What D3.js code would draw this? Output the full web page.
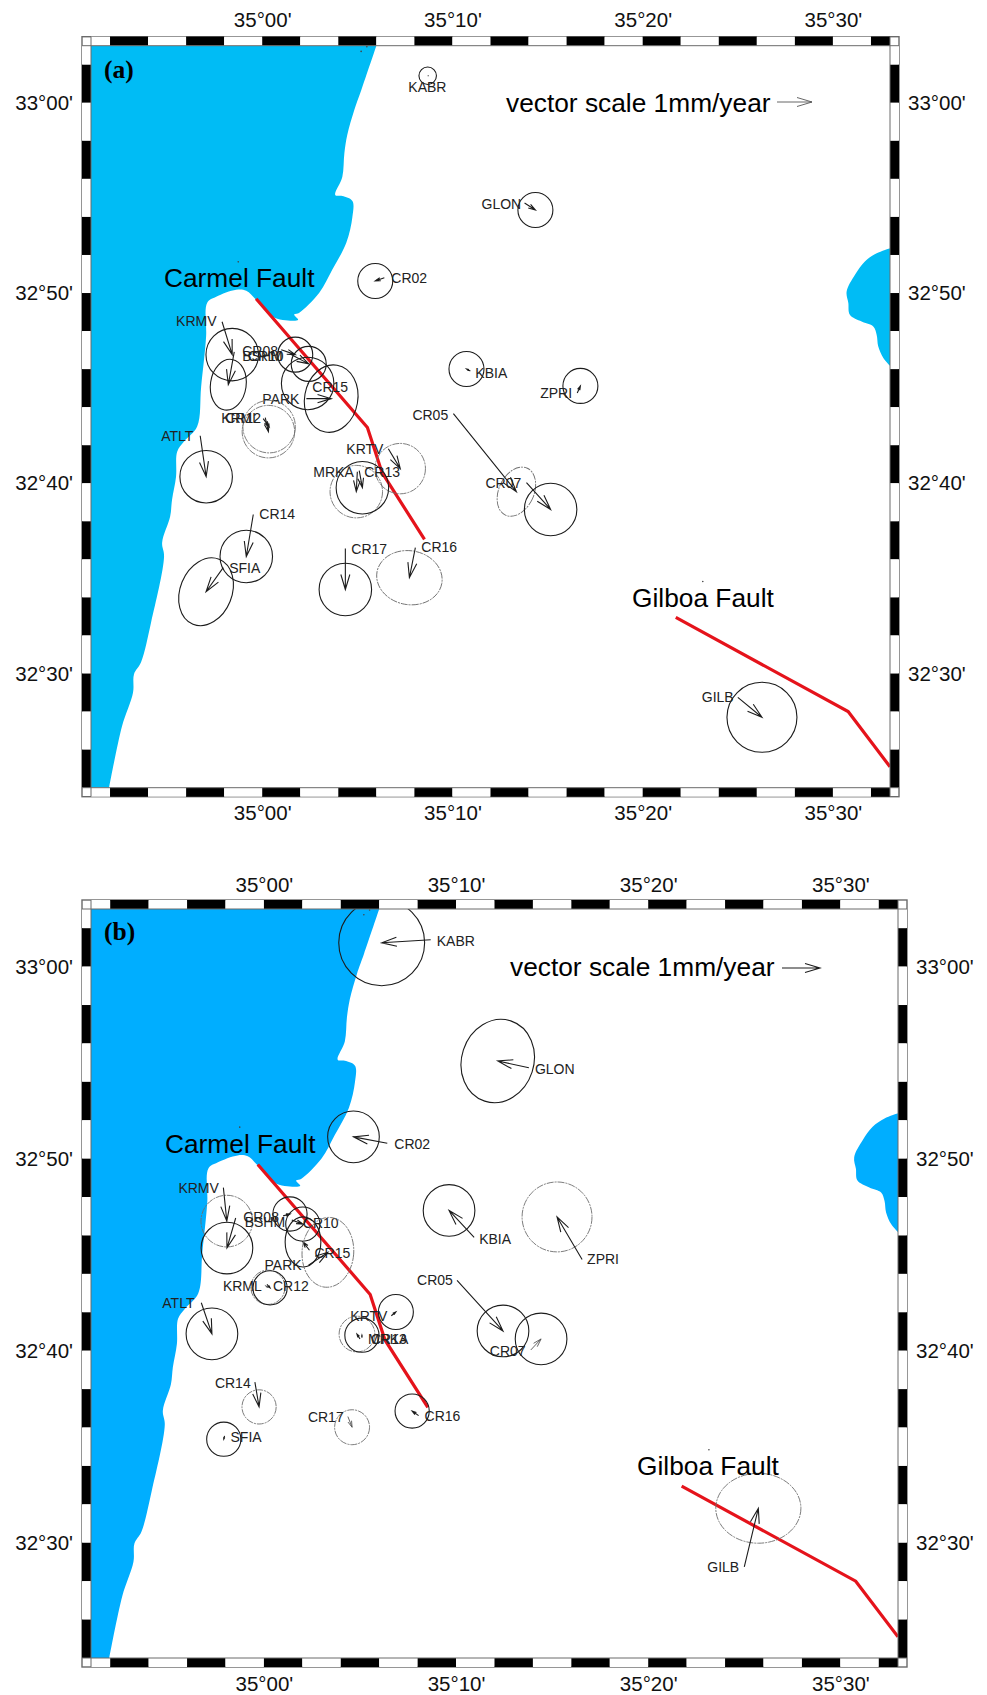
<!DOCTYPE html>
<html>
<head>
<meta charset="utf-8">
<script src="https://cdn.jsdelivr.net/npm/d3@7"></script>
<style>
    html, body {margin: 0; padding: 0; background: #fff;}
    svg {display: block; font-family: "Liberation Sans", Arial, sans-serif;}
    .ell {fill: none; stroke: #1c1c1c; stroke-width: 1.1;}
    .ell.faint {stroke: #6e6e6e; stroke-width: 0.9; stroke-dasharray: 7 1 2 1;}
    .vec {fill: none; stroke: #1c1c1c; stroke-width: 1.1;}
    .vec.thin {stroke: #555; stroke-width: 0.9;}
    .name {font-size: 14px; fill: #222;}
    .big {font-size: 26.3px; fill: #000;}
    .tick text {font-size: 20.5px; fill: #111; font-family: "Liberation Sans", Arial, sans-serif;}
</style>
</head>
<body>
<script>
// all map positions are arcminutes from 35 00' E and 33 00' N
var stations = ["KABR", "GLON", "CR02", "KRMV", "BSHM", "CR08", "CR10", "CR15", "PARK", "KRML", "CR12", "ATLT",
    "KRTV", "MRKA", "CR13", "CR14", "SFIA", "CR17", "CR16", "CR05", "CR07", "KBIA", "ZPRI", "GILB"];
var stationE = [8.68, 13.79, 6.42, -2.11, -1.47, 1.0, 1.45, 2.37, 2.32, 0.05, 0.16, -3.26,
    6.63, 5.0, 5.1, -0.47, -2.05, 4.37, 8.05, 10.05, 13.89, 10.94, 16.56, 25.0];
var stationN = [1.40, -5.27, -9.2, -11.51, -13.09, -12.98, -13.19, -14.77, -15.55, -16.6, -16.55, -17.5,
    -18.18, -19.39, -19.33, -21.64, -24.43, -23.43, -23.38, -16.34, -19.96, -14.1, -15.25, -31.25];

// velocities in mm/year, panel a
var eastA = [0.01, 0.31, -0.26, 0.29, -0.17, 0.40, 0.54, 0.01, 0.71, 0.17, 0.09, 0.17,
    0.34, -0.03, 0.09, -0.20, -0.49, 0.0, -0.17, 1.80, 0.69, -0.11, 0.09, 0.69];
var northA = [0.01, -0.20, -0.09, -0.94, -0.94, -0.14, -0.29, 0.01, 0.0, -0.23, -0.40, -1.17,
    -0.57, -0.57, -0.49, -1.20, -0.69, -1.17, -0.86, -2.23, -0.77, 0.06, 0.20, -0.57];
var errEA = [0.25, 0.5, 0.5, 0.75, 0.51, 0.5, 0.5, 0.75, 0.76, 0.75, 0.75, 0.75,
    0.72, 0.75, 0.75, 0.75, 0.74, 0.75, 0.94, 0.5, 0.75, 0.5, 0.5, 1.0];
var errNA = [0.25, 0.5, 0.5, 0.75, 0.73, 0.5, 0.5, 0.75, 0.97, 0.75, 0.75, 0.75,
    0.72, 0.75, 0.75, 0.75, 1.0, 0.75, 0.77, 0.74, 0.75, 0.5, 0.5, 1.0];
var tiltA = [0, 0, 0, 0, 8, 0, 0, 0, 10, 0, 0, 0, 0, 0, 0, 0, 22, 0, 10, 25, 0, 0, 0, 0];

// velocities in mm/year, panel b
var eastB = [-1.29, -0.82, -0.89, 0.09, -0.23, 0.18, 0.29, -0.17, 0.51, 0.08, 0.08, 0.28,
    0.12, -0.08, 0.0, 0.11, -0.02, 0.11, -0.17, 1.21, 0.27, -0.66, -0.66, 0.37];
var northB = [-0.08, 0.18, 0.17, -0.88, -0.79, 0.05, -0.11, 0.22, 0.34, -0.05, -0.09, -0.82,
    0.10, 0.13, 0.07, -0.65, -0.09, -0.28, 0.12, -1.33, 0.29, 0.71, 1.12, 1.54];
var errEB = [1.13, 0.95, 0.68, 0.68, 0.68, 0.45, 0.45, 0.47, 0.68, 0.45, 0.45, 0.68,
    0.46, 0.47, 0.45, 0.45, 0.45, 0.46, 0.45, 0.68, 0.68, 0.68, 0.92, 1.12];
var errNB = [1.13, 1.11, 0.68, 0.68, 0.68, 0.45, 0.45, 0.66, 0.92, 0.45, 0.45, 0.68,
    0.46, 0.47, 0.45, 0.45, 0.45, 0.46, 0.45, 0.68, 0.68, 0.68, 0.92, 0.92];
var tiltB = [0, 18, 0, 0, 0, 0, 0, 0, 4, 0, 0, 0, 0, 0, 0, 0, 0, 0, 0, 0, 0, 0, 0, 0];

var coastE = [6.0, 5.21, 4.84, 4.47, 4.32, 4.21, 3.84, 4.21, 4.74, 4.74, 4.42, 3.68, 3.0, 1.95, 1.68, 1.89, 1.58,
    0.53, -0.32, -0.84, -1.37, -2.42, -2.89, -2.95, -3.21, -3.42, -4.11, -4.47, -4.53, -4.74, -4.84,
    -5.26, -5.16, -5.84, -6.37, -6.74, -6.79, -7.37, -8.05];
var coastN = [3, 0.67, -0.38, -1.70, -2.64, -3.90, -4.85, -4.90, -5.16, -6.0, -7.36, -8.78, -9.99, -11.04, -11.14, -11.41, -11.46,
    -11.25, -10.36, -9.88, -9.83, -10.2, -10.51, -12.3, -14.92, -17.02, -17.81, -18.34, -19.65, -20.86, -21.75,
    -23.11, -23.85, -27.31, -29.41, -30.04, -30.99, -32.77, -36];
var lakeE = [33, 32.3, 31.68, 31.16, 30.72, 30.81, 30.89, 31.51, 32.12, 32.3, 32.38, 32.65, 33];
var lakeN = [-7.64, -7.91, -8.34, -9.04, -9.92, -10.53, -11.14, -11.5, -11.76, -12.2, -12.8, -13.42, -13.83];

var carmelE = [-0.32, 5.53, 6.3, 8.53];
var carmelN = [-10.3, -17.07, -19.44, -22.95];
var gilboaE = [21.74, 30.8, 33];
var gilboaN = [-27.05, -32, -34.9];
var speckE = [-1.26, 23.16, 5.2, 5.5];
var speckN = [-8.36, -25.16, 2.7, 2.95];

var lonTicks = [0, 10, 20, 30];
var latTicks = [0, -10, -20, -30];
var lonTickLabels = ["35\u00b000'", "35\u00b010'", "35\u00b020'", "35\u00b030'"];
var latTickLabels = ["33\u00b000'", "32\u00b050'", "32\u00b040'", "32\u00b030'"];

// label offsets from the station, pixels [dx, dy]
var labelA = {KABR: [-19, 11], GLON: [-43, 1], CR02: [7, 0], KRMV: [-46, -1], BSHM: [8, 4], CR08: [-39, 1], CR10: [-42, 2],
    CR15: [5, 3], PARK: [-44, 0], KRML: [-42, -1], CR12: [-40, 0], ATLT: [-39, 0], KRTV: [-42, 0], MRKA: [-44, 0],
    CR13: [5, 1], CR14: [6, 0], SFIA: [6, 0], CR17: [6, 0], CR16: [6, -1], CR05: [-41, 1], CR07: [-41, 0],
    KBIA: [5, 2], ZPRI: [-37, 0], GILB: [-36, 0]};
var labelB = {KABR: [6, 1], GLON: [6, 1], CR02: [7, 1], KRMV: [-45, 0], BSHM: [9, 4], CR08: [-40, 1], CR10: [11, 3],
    CR15: [5, 3], PARK: [-44, 0], KRML: [-42, 1], CR12: [6, 2], ATLT: [-39, 0], KRTV: [-41, 0], MRKA: [8, 0],
    CR13: [9, 1], CR14: [-40, 1], SFIA: [6, 1], CR17: [-40, 0], CR16: [6, 0], CR05: [-40, 0], CR07: [-41, 1],
    KBIA: [5, 2], ZPRI: [5, 0], GILB: [-37, 0]};

var svg = d3.select("body").append("svg").attr("width", 987).attr("height", 1695);

drawPanel({
    id: "a", tag: "(a)", left: 91, right: 890, top: 45.7, bottom: 787.7,
    water: "#00bcf5", pxPerMm: 35,
    east: eastA, north: northA, errE: errEA, errN: errNA, tilt: tiltA, labels: labelA,
    faint: ["KRML", "CR12", "KRTV", "MRKA", "CR16", "CR05"], thin: [],
    carmelLabel: [164, 287], gilboaLabel: [632, 607], scaleLabel: [506, 112], scaleArrow: [777, 102],
    tagPos: [104, 78], topPad: 10
});
drawPanel({
    id: "b", tag: "(b)", left: 91, right: 898, top: 909, bottom: 1658,
    water: "#00aeff", pxPerMm: 38,
    east: eastB, north: northB, errE: errEB, errN: errNB, tilt: tiltB, labels: labelB,
    faint: ["KRMV", "PARK", "KRML", "MRKA", "CR14", "CR17", "ZPRI", "GILB"], thin: ["CR07", "CR17", "KRML"],
    carmelLabel: [165, 1153], gilboaLabel: [637, 1475], scaleLabel: [510, 976], scaleArrow: [782, 968],
    tagPos: [104, 940], topPad: 8
});

function arrowPath(x0, y0, x1, y1) {
    var len = Math.hypot(x1 - x0, y1 - y0);
    if (len < 0.5) return "M" + x1 + "," + y1 + "h1";
    var ux = (x1 - x0) / len, uy = (y1 - y0) / len;
    var head = Math.min(15, len * 0.55), wing = head * 0.3;
    var bx = x1 - ux * head, by = y1 - uy * head;
    return "M" + x0 + "," + y0 + "L" + x1 + "," + y1 +
        "M" + (bx - uy * wing) + "," + (by + ux * wing) + "L" + x1 + "," + y1 +
        "L" + (bx + uy * wing) + "," + (by - ux * wing);
}

function drawPanel(p) {
    var bar = 9;
    var x = d3.scaleLinear().domain([-9, 33]).range([p.left, p.right]);
    var y = d3.scaleLinear().domain([3, -36]).range([p.top, p.bottom]);
    var g = svg.append("g").attr("id", "panel-" + p.id);

    var clipId = "clip-" + p.id;
    g.append("clipPath").attr("id", clipId).append("rect")
        .attr("x", p.left).attr("y", p.top)
        .attr("width", p.right - p.left).attr("height", p.bottom - p.top);
    var map = g.append("g").attr("clip-path", "url(#" + clipId + ")");

    // water
    var straight = d3.line().x(function(d) {return x(d[0]);}).y(function(d) {return y(d[1]);});
    var shore = d3.line().x(function(d) {return x(d[0]);}).y(function(d) {return y(d[1]);})
        .curve(d3.curveCatmullRom.alpha(0.5));
    map.append("path").attr("fill", p.water)
        .attr("d", shore(d3.zip(coastE, coastN)) + "L" + x(-9) + "," + y(-36) + "L" + x(-9) + "," + y(3) + "Z");
    map.append("path").attr("fill", p.water).attr("d", shore(d3.zip(lakeE, lakeN)) + "Z");

    map.selectAll(".speck").data(d3.zip(speckE, speckN)).enter().append("circle")
        .attr("class", "speck")
        .attr("cx", function(d) {return x(d[0]);})
        .attr("cy", function(d) {return y(d[1]);})
        .attr("r", 0.8).attr("fill", "#444");

    // faults
    [d3.zip(carmelE, carmelN), d3.zip(gilboaE, gilboaN)].forEach(function(f) {
        map.append("path").attr("d", straight(f))
            .attr("fill", "none").attr("stroke", "#e5131b").attr("stroke-width", 3.2);
    });

    // error ellipses sit on the arrow tips
    var site = g.append("g").selectAll("g").data(stations).enter().append("g")
        .attr("clip-path", "url(#" + clipId + ")");
    site.append("ellipse")
        .attr("class", function(d) {return p.faint.indexOf(d) >= 0 ? "ell faint" : "ell";})
        .attr("rx", function(d, i) {return p.errE[i] * p.pxPerMm;})
        .attr("ry", function(d, i) {return p.errN[i] * p.pxPerMm;})
        .attr("transform", function(d, i) {
            var tx = x(stationE[i]) + p.east[i] * p.pxPerMm;
            var ty = y(stationN[i]) - p.north[i] * p.pxPerMm;
            return "translate(" + tx + "," + ty + ") rotate(" + p.tilt[i] + ")";
        });
    site.append("path")
        .attr("class", function(d) {return p.thin.indexOf(d) >= 0 ? "vec thin" : "vec";})
        .attr("d", function(d, i) {
            var x0 = x(stationE[i]), y0 = y(stationN[i]);
            return arrowPath(x0, y0, x0 + p.east[i] * p.pxPerMm, y0 - p.north[i] * p.pxPerMm);
        });
    site.append("text").attr("class", "name")
        .attr("x", function(d, i) {return x(stationE[i]) + p.labels[d][0];})
        .attr("y", function(d, i) {return y(stationN[i]) + p.labels[d][1] + 5;})
        .text(function(d) {return d;});

    // titles and scale arrow
    g.append("text").attr("class", "big").attr("x", p.carmelLabel[0]).attr("y", p.carmelLabel[1]).text("Carmel Fault");
    g.append("text").attr("class", "big").attr("x", p.gilboaLabel[0]).attr("y", p.gilboaLabel[1]).text("Gilboa Fault");
    g.append("text").attr("class", "big").attr("x", p.scaleLabel[0]).attr("y", p.scaleLabel[1]).text("vector scale 1mm/year");
    g.append("path").attr("class", p.id == "a" ? "vec thin" : "vec")
        .attr("d", arrowPath(p.scaleArrow[0], p.scaleArrow[1], p.scaleArrow[0] + p.pxPerMm, p.scaleArrow[1]));
    g.append("text").attr("x", p.tagPos[0]).attr("y", p.tagPos[1])
        .style("font-family", '"Liberation Serif", serif').style("font-weight", "bold")
        .style("font-size", "25.5px").text(p.tag);

    // checkered frame, 2 minute segments
    var lonEdges = [-9].concat(d3.range(-8, 33, 2), [33]);
    var latEdges = [3].concat(d3.range(2, -37, -2));
    var frame = g.append("g");
    frame.append("rect")
        .attr("x", p.left - bar).attr("y", p.top - bar)
        .attr("width", p.right - p.left + 2 * bar).attr("height", p.bottom - p.top + 2 * bar)
        .attr("fill", "none").attr("stroke", "#6a6a6a").attr("stroke-width", 1.4);
    [p.top - bar, p.bottom].forEach(function(by) {
        frame.append("g").selectAll("rect").data(d3.pairs(lonEdges)).enter().append("rect")
            .attr("x", function(d) {return x(d[0]);}).attr("y", by)
            .attr("width", function(d) {return x(d[1]) - x(d[0]);}).attr("height", bar)
            .attr("fill", function(d, i) {return i % 2 ? "#000" : "#fff";});
    });
    [p.left - bar, p.right].forEach(function(bx) {
        frame.append("g").selectAll("rect").data(d3.pairs(latEdges)).enter().append("rect")
            .attr("x", bx).attr("y", function(d) {return y(d[0]);})
            .attr("width", bar).attr("height", function(d) {return y(d[1]) - y(d[0]);})
            .attr("fill", function(d, i) {return i % 2 ? "#000" : "#fff";});
    });
    frame.append("path").attr("fill", "none").attr("stroke", "#6a6a6a").attr("stroke-width", 1)
        .attr("d", "M" + p.left + "," + (p.top - bar) + "V" + (p.bottom + bar) +
            "M" + p.right + "," + (p.top - bar) + "V" + (p.bottom + bar) +
            "M" + (p.left - bar) + "," + p.top + "H" + (p.right + bar) +
            "M" + (p.left - bar) + "," + p.bottom + "H" + (p.right + bar));

    // tick labels
    function lonFmt(d) {return lonTickLabels[lonTicks.indexOf(d)];}
    function latFmt(d) {return latTickLabels[latTicks.indexOf(d)];}
    var axes = [
        [d3.axisTop(x).tickValues(lonTicks).tickFormat(lonFmt).tickPadding(p.topPad), 0, p.top - bar],
        [d3.axisBottom(x).tickValues(lonTicks).tickFormat(lonFmt).tickPadding(9), 0, p.bottom + bar],
        [d3.axisLeft(y).tickValues(latTicks).tickFormat(latFmt).tickPadding(9), p.left - bar, 0],
        [d3.axisRight(y).tickValues(latTicks).tickFormat(latFmt).tickPadding(9), p.right + bar, 0]
    ];
    axes.forEach(function(a) {
        var ax = g.append("g").attr("transform", "translate(" + a[1] + "," + a[2] + ")")
            .call(a[0].tickSize(0));
        ax.select(".domain").remove();
        ax.attr("font-size", null).attr("font-family", null);
    });
}
</script>
</body>
</html>
